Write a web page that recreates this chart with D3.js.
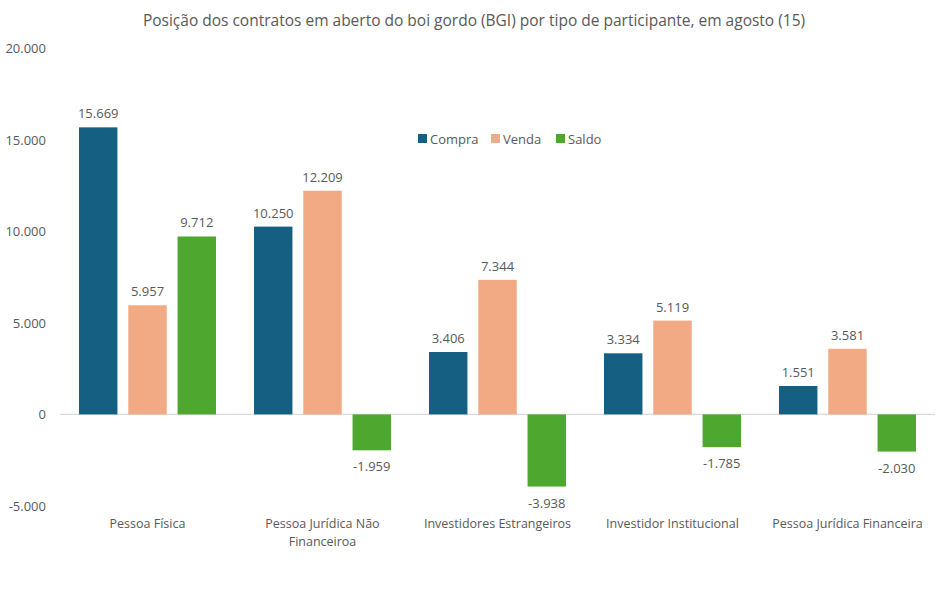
<!DOCTYPE html>
<html><head><meta charset="utf-8">
<script src="https://cdn.jsdelivr.net/npm/d3@7"></script>
<style>body{margin:0;background:#fff;} text{font-family:"Open Sans",sans-serif;fill:#595959;}</style>
</head><body>
<svg id="c" width="948" height="590"></svg>
<script>
const categories = [["Pessoa Física"],["Pessoa Jurídica Não","Financeiroa"],["Investidores Estrangeiros"],["Investidor Institucional"],["Pessoa Jurídica Financeira"]];
const series = ["Compra","Venda","Saldo"];
const compra = [15669,10250,3406,3334,1551];
const venda = [5957,12209,7344,5119,3581];
const saldo = [9712,-1959,-3938,-1785,-2030];
const yTicks = [-5000,0,5000,10000,15000,20000];
const colors = ["#156082","#F2AA84","#4EA72E"];
const title = "Posição dos contratos em aberto do boi gordo (BGI) por tipo de participante, em agosto (15)";

const svg = d3.select("#c");
const fmt = v => d3.format(",")(v).replace(/,/g,".").replace(/\u2212/g,"-");
const y = d3.scaleLinear().domain([-5000,20000]).range([506,48]);
const x0 = d3.scaleBand().domain(d3.range(5)).range([60,935]);
const x1 = d3.scaleBand().domain(series).range([19,156]).paddingInner(0.22);
const vals = [compra,venda,saldo];

svg.append("text").attr("x",474).attr("y",26).attr("text-anchor","middle").style("font-size","15.5px").text(title);

svg.selectAll(".yt").data(yTicks).enter().append("text")
  .attr("x",46).attr("y",d=>y(d)+5).attr("text-anchor","end").style("font-size","13px").text(d=>fmt(d));

svg.append("line").attr("x1",60).attr("x2",935).attr("y1",y(0)).attr("y2",y(0)).attr("stroke","#d9d9d9").attr("stroke-width",1.2);

series.forEach((s,si)=>{
  const g = svg.append("g");
  g.selectAll("rect").data(vals[si]).enter().append("rect")
    .attr("x",(d,i)=>x0(i)+x1(s)).attr("width",x1.bandwidth())
    .attr("y",d=>y(Math.max(0,d))).attr("height",d=>Math.abs(y(d)-y(0)))
    .attr("fill",colors[si]);
  g.selectAll("text").data(vals[si]).enter().append("text")
    .attr("x",(d,i)=>x0(i)+x1(s)+x1.bandwidth()/2)
    .attr("y",d=>d>=0?y(d)-9:y(d)+21)
    .attr("text-anchor","middle").style("font-size","13px").text(d=>fmt(d));
});

categories.forEach((lines,i)=>{
  const t = svg.append("text").attr("x",x0(i)+x0.bandwidth()/2).attr("y",528).attr("text-anchor","middle").style("font-size","12.5px");
  lines.forEach((l,j)=>t.append("tspan").attr("x",x0(i)+x0.bandwidth()/2).attr("dy",j?18:0).text(l));
});

const lx = [418,491,556];
series.forEach((s,i)=>{
  svg.append("rect").attr("x",lx[i]).attr("y",134).attr("width",9).attr("height",9).attr("fill",colors[i]);
  svg.append("text").attr("x",lx[i]+12).attr("y",143.5).style("font-size","13px").text(s);
});
</script>
</body></html>
